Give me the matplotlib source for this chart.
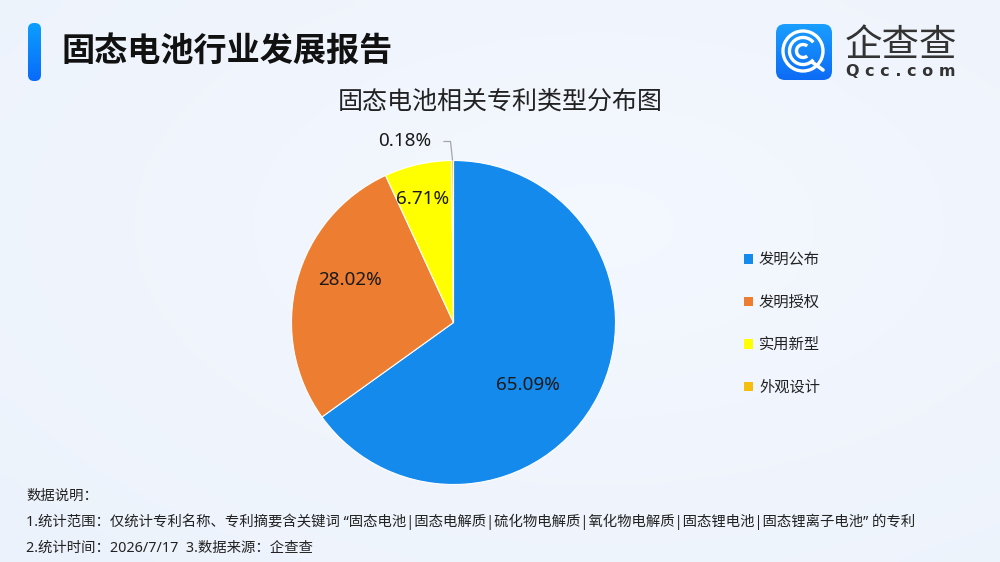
#!/usr/bin/env python3
import numpy as np
import matplotlib
matplotlib.use('Agg')
import matplotlib.pyplot as plt
from matplotlib.patches import FancyBboxPatch, Arc

plt.rcParams['font.family'] = ['Noto Sans', 'Noto Sans CJK SC', 'DejaVu Sans']

categories = ['发明公布', '发明授权', '实用新型', '外观设计']
shares = [65.09, 28.02, 6.71, 0.18]
share_labels = ['65.09%', '28.02%', '6.71%', '0.18%']
colors = ['#148aed', '#ed7d31', '#ffff00', '#f5bd0e']

header = '固态电池行业发展报告'
chart_title = '固态电池相关专利类型分布图'
notes = [
    '数据说明：',
    '1.统计范围：仅统计专利名称、专利摘要含关键词 “固态电池|固态电解质|硫化物电解质|氧化物电解质|固态锂电池|固态锂离子电池” 的专利',
    '2.统计时间：2026/7/17  3.数据来源：企查查',
]

W, H = 1000, 562
fig = plt.figure(figsize=(10, 5.62), dpi=100)

# background
bg = fig.add_axes([0, 0, 1, 1], zorder=0)
bg.axis('off')
yy, xx = np.mgrid[0:1:60j, 0:1:100j]
wash = np.clip(1 - np.hypot(xx - 0.6, yy - 0.4) / 0.8, 0, 1) ** 0.7
rgb = np.zeros((60, 100, 3))
for i, (lo, hi) in enumerate([(0.925, 0.955), (0.950, 0.970), (0.985, 0.998)]):
    rgb[..., i] = lo + (hi - lo) * wash
bg.imshow(rgb, extent=(0, W, H, 0), aspect='auto', interpolation='bicubic')
bg.set_xlim(0, W)
bg.set_ylim(H, 0)

# pie, centre 453.5,322.5 radius 162 px
cx, cy, r = 453.5, 322.5, 162
ax = fig.add_axes([(cx - r) / W, (H - cy - r) / H, 2 * r / W, 2 * r / H], zorder=1)
wedges, _ = ax.pie(shares, colors=colors, startangle=90, counterclock=False, radius=1,
                   wedgeprops=dict(edgecolor='white', linewidth=0.8))
ax.set_xlim(-1, 1)
ax.set_ylim(-1, 1)

leg = ax.legend(wedges, categories, loc='center left', frameon=False,
                bbox_to_anchor=((744 - cx + r) / (2 * r), (H - 324.5 - (H - cy - r)) / (2 * r)),
                prop={'size': 11}, handlelength=0.6, handleheight=0.6, handletextpad=0.38,
                labelspacing=1.8, borderpad=0, borderaxespad=0)
for t in leg.get_texts():
    t.set_color('#222222')
for h in leg.legend_handles:
    h.set_edgecolor('none')

# overlay in pixel coordinates
ov = fig.add_axes([0, 0, 1, 1], zorder=2)
ov.axis('off')
ov.set_xlim(0, W)
ov.set_ylim(H, 0)
ov.patch.set_alpha(0)

label_pos = [(528, 385), (350, 280), (422.5, 199), (405, 141.5)]
for lab, (x, y) in zip(share_labels, label_pos):
    ov.text(x, y, lab, ha='center', va='center', fontsize=13.6, color='#1a1a1a')
ov.plot([452.5, 450.5, 444], [160, 141.5, 141.5], color='#a6a6a6', lw=0.9)

# header accent bar
bar = FancyBboxPatch((28, 23), 13, 58, boxstyle='round,pad=0,rounding_size=6',
                     transform=ov.transData, fc='none', ec='none')
ov.add_patch(bar)
grad = np.linspace(0, 1, 50)[:, None, None] * (np.array([0.03, 0.42, 0.98]) - np.array([0.05, 0.62, 1.0])) + np.array([0.05, 0.62, 1.0])
im = ov.imshow(grad, extent=(28, 41, 81, 23), aspect='auto')
im.set_clip_path(bar)
ov.set_xlim(0, W)
ov.set_ylim(H, 0)

ov.text(62, 51, header, ha='left', va='center', fontsize=23.9, fontweight='bold',
        color='#111111', family=['Noto Sans CJK SC', 'DejaVu Sans'])
ov.text(500, 101.5, chart_title, ha='center', va='center', fontsize=18, color='#222222',
        family=['Noto Sans CJK SC', 'DejaVu Sans'])

for y, line in zip([496, 522, 548], notes):
    ov.text(26.5, y, line, ha='left', va='center', fontsize=10.36, color='#222222')

# logo
icon = FancyBboxPatch((776, 24), 56, 56, boxstyle='round,pad=0,rounding_size=9',
                      transform=ov.transData, fc='none', ec='none')
ov.add_patch(icon)
grad2 = np.linspace(0, 1, 50)[:, None, None] * (np.array([0.05, 0.42, 0.96]) - np.array([0.10, 0.62, 1.0])) + np.array([0.10, 0.62, 1.0])
im2 = ov.imshow(grad2, extent=(776, 832, 80, 24), aspect='auto')
im2.set_clip_path(icon)
ov.set_xlim(0, W)
ov.set_ylim(H, 0)
ov.add_patch(Arc((803, 51), 40, 40, theta1=0, theta2=360, color='white', lw=2.4))
ov.add_patch(Arc((803, 51), 27, 27, theta1=40, theta2=320, color='white', lw=2.4))
ov.add_patch(Arc((803, 51), 13, 13, theta1=50, theta2=310, color='white', lw=2.4))
ov.plot([812, 823], [62, 70], color='white', lw=2.6, solid_capstyle='round')
ov.text(900.5, 45.5, '企查查', ha='center', va='center', fontsize=27, color='#333333',
        family=['Noto Sans CJK SC', 'DejaVu Sans'])
ov.text(900.5, 72, 'Q c c . c o m', ha='center', va='center', fontsize=11.5, color='#333333',
        fontweight='bold', family=['DejaVu Sans'])

fig.savefig('out.png', dpi=100)
